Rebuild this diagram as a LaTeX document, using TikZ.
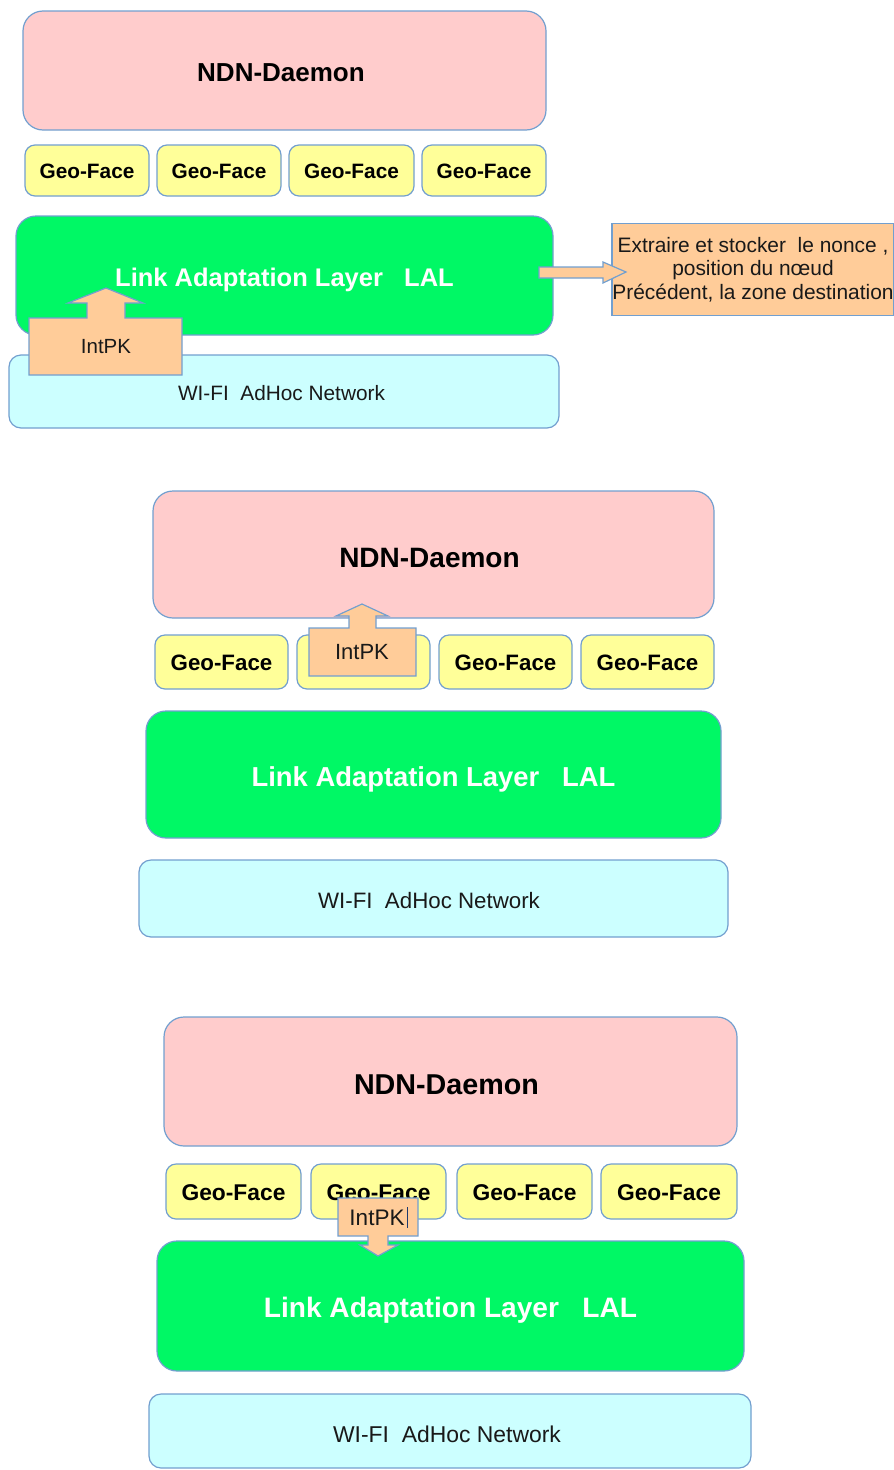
\documentclass[tikz,border=0pt]{standalone}
\usepackage{fontspec}
\setmainfont{Liberation Sans}
\definecolor{edge}{HTML}{729FCF}
\definecolor{ndnfill}{HTML}{FFCCCC}
\definecolor{facefill}{HTML}{FFFF99}
\definecolor{lalfill}{HTML}{00F865}
\definecolor{wififill}{HTML}{CCFFFF}
\definecolor{pkfill}{HTML}{FFCC99}
\definecolor{cursorblue}{HTML}{1F3A6E}
% lower a label inside its box without changing the box size
\newcommand\dropby[2]{\raisebox{-#1}[\height][\depth]{#2}}
% same, and also move it left by #1
\newcommand\nudge[3]{\raisebox{-#2}[\height][\depth]{\hspace*{-#1}#3\hspace*{#1}}}
\tikzset{
  layer/.style={draw=edge, line width=1.2pt, inner sep=0pt, outer sep=0pt},
  ndnbox/.style={layer, fill=ndnfill, rounded corners=20pt, font=\bfseries\fontsize{#1}{#1}\selectfont},
  facebox/.style={layer, fill=facefill, rounded corners=10pt, font=\bfseries\fontsize{#1}{#1}\selectfont},
  lalbox/.style={layer, fill=lalfill, rounded corners=20pt, text=white, font=\bfseries\fontsize{#1}{#1}\selectfont},
  wifibox/.style={layer, fill=wififill, rounded corners=12pt, text=black!90, font=\fontsize{#1}{#1}\selectfont},
  pkshape/.style={draw=edge, line width=1.2pt, fill=pkfill},
  pklabel/.style={inner sep=0pt, text=black!90, font=\fontsize{#1}{#1}\selectfont},
  notebox/.style={layer, fill=pkfill, align=center, text=black!90, font=\fontsize{20.9}{23.5}\selectfont},
}
% \blk{name}{style}{x1}{y1}{x2}{y2}{text}: box given by its corners
\newcommand\blk[7]{\node[#2, minimum width={(#5)-(#3)}, minimum height={(#6)-(#4)}] (#1) at ({((#3)+(#5))/2},{((#4)+(#6))/2}) {#7};}
\begin{document}
\begin{tikzpicture}[x=1pt, y=-1pt]
\useasboundingbox (0,0) rectangle (894,1470);

% ---------- stack 1 ----------
\blk{ndnA}{ndnbox=26}{23}{11}{546}{130}{\nudge{3.5pt}{2.5pt}{NDN-Daemon}}
\blk{faceAa}{facebox=20.8}{25}{145}{149}{196}{\dropby{1pt}{Geo-Face}}
\blk{faceAb}{facebox=20.8}{157}{145}{281}{196}{\dropby{1pt}{Geo-Face}}
\blk{faceAc}{facebox=20.8}{289}{145}{414}{196}{\dropby{1pt}{Geo-Face}}
\blk{faceAd}{facebox=20.8}{422}{145}{546}{196}{\dropby{1pt}{Geo-Face}}
\blk{lalA}{lalbox=25.5}{16}{216}{553}{335}{\dropby{4pt}{Link Adaptation Layer\ \ \ LAL}}
\blk{wifiA}{wifibox=20.8}{9}{355}{559}{428}{\nudge{2.5pt}{1.5pt}{WI-FI\ \ AdHoc Network}}
% packet climbing from the network into the LAL
\draw[pkshape] (29,375) -- (29,318) -- (87,318) -- (87,303) -- (68,303) -- (106,288)
  -- (143,303) -- (125,303) -- (125,318) -- (182,318) -- (182,375) -- cycle;
\node[pklabel=20.5] (pkA) at (106,346.5) {IntPK};
% what the LAL keeps
\node[notebox, minimum width=282pt, minimum height=92pt] (noteA) at (753,269.5)
  {Extraire et stocker\ \ le nonce ,\\position du nœud\\Précédent, la zone destination};
\draw[pkshape] (539,267) -- (603,267) -- (603,262) -- (626,272) -- (603,283) -- (603,278)
  -- (539,278) -- cycle;

% ---------- stack 2 ----------
\blk{ndnB}{ndnbox=28}{153}{491}{714}{618}{\nudge{4pt}{3pt}{NDN-Daemon}}
\blk{faceBa}{facebox=22.3}{155}{635}{288}{689}{\dropby{1pt}{Geo-Face}}
\blk{faceBb}{facebox=22.3}{297}{635}{430}{689}{\dropby{1pt}{Geo-Face}}
\blk{faceBc}{facebox=22.3}{439}{635}{572}{689}{\dropby{1pt}{Geo-Face}}
\blk{faceBd}{facebox=22.3}{581}{635}{714}{689}{\dropby{1pt}{Geo-Face}}
\blk{lalB}{lalbox=27.4}{146}{711}{721}{838}{\dropby{4.5pt}{Link Adaptation Layer\ \ \ LAL}}
\blk{wifiB}{wifibox=22.3}{139}{860}{728}{937}{\nudge{4.5pt}{2pt}{WI-FI\ \ AdHoc Network}}
% packet handed from a face up to the daemon
\draw[pkshape] (309,676) -- (309,628) -- (349,628) -- (349,616) -- (336,616) -- (362,604)
  -- (388,616) -- (376,616) -- (376,628) -- (416,628) -- (416,676) -- cycle;
\node[pklabel=22] (pkB) at (362,652) {IntPK};

% ---------- stack 3 ----------
\blk{ndnC}{ndnbox=28.7}{164}{1017}{737}{1146}{\nudge{4pt}{3pt}{NDN-Daemon}}
\blk{faceCa}{facebox=22.8}{166}{1164}{301}{1219}{\dropby{1pt}{Geo-Face}}
\blk{faceCb}{facebox=22.8}{311}{1164}{446}{1219}{\dropby{1pt}{Geo-Face}}
\blk{faceCc}{facebox=22.8}{457}{1164}{592}{1219}{\dropby{1pt}{Geo-Face}}
\blk{faceCd}{facebox=22.8}{601}{1164}{737}{1219}{\dropby{1pt}{Geo-Face}}
\blk{lalC}{lalbox=28.1}{157}{1241}{744}{1371}{\dropby{4.5pt}{Link Adaptation Layer\ \ \ LAL}}
\blk{wifiC}{wifibox=22.9}{149}{1394}{751}{1468}{\nudge{3pt}{3pt}{WI-FI\ \ AdHoc Network}}
% packet going down from a face to the LAL
\draw[pkshape] (338,1198) -- (418,1198) -- (418,1236) -- (388,1236) -- (388,1245) -- (398,1245)
  -- (378,1256) -- (360,1245) -- (368,1245) -- (368,1236) -- (338,1236) -- cycle;
\node[pklabel=22.5] (pkC) at (377,1217.5) {IntPK};
\coordinate (caretTop) at (407.5,1207);
\coordinate (caretBot) at (407.5,1228);
\draw[cursorblue, line width=1.3pt] (caretTop) -- (caretBot);
\end{tikzpicture}
\end{document}
